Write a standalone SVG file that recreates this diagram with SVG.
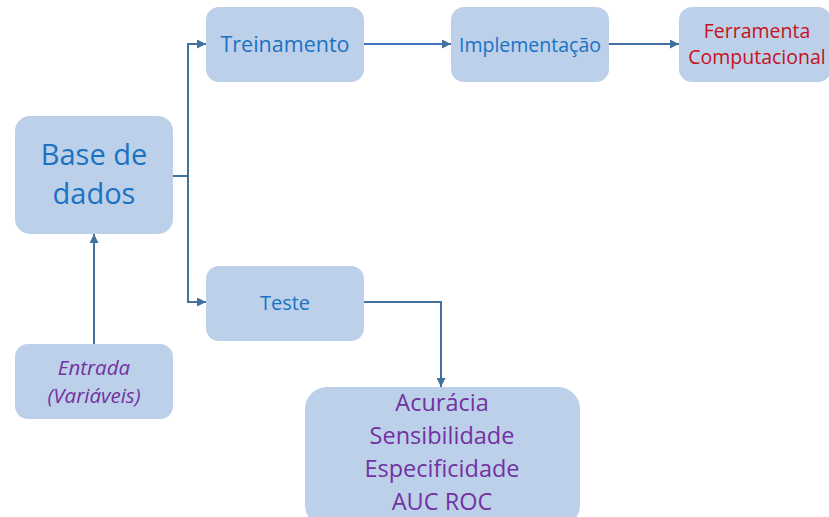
<svg xmlns="http://www.w3.org/2000/svg" width="829" height="517" viewBox="0 0 829 517">
<style>
.box{fill:#BCD0E9;}
.t{font-family:"Open Sans","Liberation Sans",sans-serif;text-anchor:middle;}
.blue{fill:#1A72C4;}
.red{fill:#C5121E;}
.purple{fill:#7232A2;}
.con{fill:none;stroke:#41719C;stroke-width:2;}
</style>
<defs>
<marker id="ah" viewBox="0 0 10 10" refX="10" refY="5" markerWidth="4.5" markerHeight="4.5" orient="auto" markerUnits="strokeWidth">
<path d="M0,0 L10,5 L0,10 z" fill="#41719C"/>
</marker>
</defs>
<rect width="829" height="517" fill="#FFFFFF"/>
<g id="connectors">
<path class="con" d="M173,176 H188"/>
<path class="con" d="M188,302 V44 H206" marker-end="url(#ah)"/>
<path class="con" d="M188,176 V302 H206" marker-end="url(#ah)"/>
<path class="con" d="M364,44 H451" marker-end="url(#ah)" style="stroke:#4472C4"/>
<path class="con" d="M609,44 H679" marker-end="url(#ah)"/>
<path class="con" d="M94,344 V234" marker-end="url(#ah)"/>
<path class="con" d="M364,302 H441 V387" marker-end="url(#ah)"/>
</g>
<g id="base">
<rect class="box" x="15" y="116" width="158" height="118" rx="15"/>
<text class="t blue" x="94" y="165" font-size="29">Base de</text>
<text class="t blue" x="94" y="204" font-size="29">dados</text>
</g>
<g id="treinamento">
<rect class="box" x="206" y="7" width="158" height="75" rx="13"/>
<text class="t blue" x="285" y="52" font-size="21.5">Treinamento</text>
</g>
<g id="implementacao">
<rect class="box" x="451" y="7" width="158" height="75" rx="13"/>
<text class="t blue" x="530" y="52" font-size="19.5">Implementação</text>
</g>
<g id="ferramenta">
<rect class="box" x="679" y="7" width="152" height="75" rx="13"/>
<text class="t red" x="757" y="38" font-size="19.5">Ferramenta</text>
<text class="t red" x="757" y="64" font-size="19.5">Computacional</text>
</g>
<g id="teste">
<rect class="box" x="206" y="266" width="158" height="75" rx="13"/>
<text class="t blue" x="285" y="310" font-size="20">Teste</text>
</g>
<g id="entrada">
<rect class="box" x="15" y="344" width="158" height="75" rx="13"/>
<text class="t purple" x="94" y="375" font-size="20.5" font-style="italic">Entrada</text>
<text class="t purple" x="94" y="403" font-size="20.5" font-style="italic">(Variáveis)</text>
</g>
<g id="metricas">
<rect class="box" x="305" y="387" width="275" height="140" rx="22"/>
<text class="t purple" x="442" y="411" font-size="23.5">Acurácia</text>
<text class="t purple" x="442" y="444" font-size="23.5">Sensibilidade</text>
<text class="t purple" x="442" y="477" font-size="23.5">Especificidade</text>
<text class="t purple" x="442" y="510" font-size="23.5">AUC ROC</text>
</g>
</svg>
